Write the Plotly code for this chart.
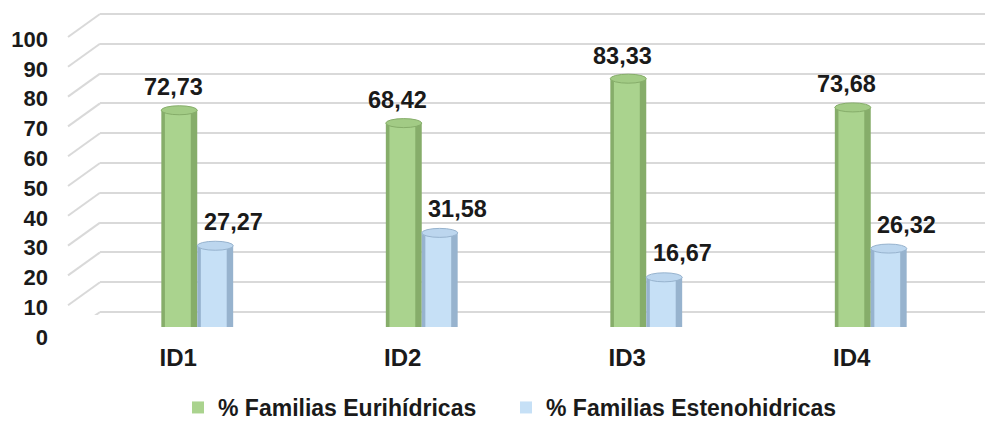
import plotly.graph_objects as go

categories = ["ID1", "ID2", "ID3", "ID4"]
euri = [72.73, 68.42, 83.33, 73.68]
esteno = [27.27, 31.58, 16.67, 26.32]
series_names = ["% Familias Eurihídricas", "% Familias Estenohidricas"]
y_ticks = [0, 10, 20, 30, 40, 50, 60, 70, 80, 90, 100]

W, H = 985, 429
FONT = "Liberation Sans, Arial, sans-serif"
TXT = "#1a1a1a"

def fmt(v):
    return f"{v:.2f}".replace(".", ",")

green_light, green_dark, green_top = "#AAD38E", "#86AD6A", "#A2CB85"
blue_light, blue_dark, blue_top = "#C6E0F6", "#97B3CE", "#BCD6EE"

fig = go.Figure()

# back-wall gridlines subplot (drawn first, underneath)
fig.add_trace(go.Scatter(x=[], y=[], xaxis="x", yaxis="y", showlegend=False, hoverinfo="skip"))

bw = 0.16
fig.add_trace(go.Bar(x=categories, y=euri, xaxis="x2", yaxis="y2", width=bw, offset=-bw,
                     marker=dict(color=green_dark, line=dict(width=0)), showlegend=False, hoverinfo="skip"))
fig.add_trace(go.Bar(x=categories, y=euri, xaxis="x2", yaxis="y2", width=bw * 0.72, offset=-bw + bw * 0.1,
                     name=series_names[0], legendwidth=283,
                     marker=dict(color=green_light, line=dict(width=0))))
fig.add_trace(go.Bar(x=categories, y=esteno, xaxis="x2", yaxis="y2", width=bw, offset=0.0,
                     marker=dict(color=blue_dark, line=dict(width=0)), showlegend=False, hoverinfo="skip"))
fig.add_trace(go.Bar(x=categories, y=esteno, xaxis="x2", yaxis="y2", width=bw * 0.72, offset=bw * 0.1,
                     name=series_names[1], legendwidth=310,
                     marker=dict(color=blue_light, line=dict(width=0))))

annotations = []
lab_font = dict(family=FONT, size=23.5, color=TXT, weight="bold")
for c, v in zip(categories, euri):
    annotations.append(dict(x=c, y=v, xref="x2", yref="y2", text=fmt(v), showarrow=False,
                            xshift=-24, yshift=23, yanchor="middle", font=lab_font))
for c, v in zip(categories, esteno):
    annotations.append(dict(x=c, y=v, xref="x2", yref="y2", text=fmt(v), showarrow=False,
                            xshift=36, yshift=24, yanchor="middle", font=lab_font))

shapes = []
for t in y_ticks:
    shapes.append(dict(type="line", xref="paper", yref="y", x0=68 / W, x1=100 / W,
                       ysizemode="pixel", yanchor=t, y0=-23, y1=0,
                       line=dict(color="#D9D9D9", width=2), layer="below"))

# cylinder tops
BWPX = 36
for i, v in enumerate(euri):
    shapes.append(dict(type="circle", xref="x2", yref="y2", xsizemode="pixel", ysizemode="pixel",
                       xanchor=i, yanchor=v, x0=-BWPX, x1=0, y0=-4.5, y1=4.5,
                       fillcolor=green_top, line=dict(color=green_dark, width=1), layer="above"))
for i, v in enumerate(esteno):
    shapes.append(dict(type="circle", xref="x2", yref="y2", xsizemode="pixel", ysizemode="pixel",
                       xanchor=i, yanchor=v, x0=0, x1=BWPX, y0=-4.5, y1=4.5,
                       fillcolor=blue_top, line=dict(color=blue_dark, width=1), layer="above"))

# back wall geometry: value 0 at 312px, 100 at 14px from top
k = (312 - 14) / 100
fig.update_layout(
    width=W, height=H,
    margin=dict(l=0, r=0, t=0, b=0, autoexpand=False),
    paper_bgcolor="white", plot_bgcolor="rgba(0,0,0,0)",
    barmode="overlay",
    showlegend=True,
    legend=dict(orientation="h", x=178 / W, xanchor="left", y=0.0, yanchor="bottom",
                font=dict(family=FONT, size=23, color=TXT, weight="bold"),
                traceorder="normal", itemwidth=30, bgcolor="rgba(0,0,0,0)"),
    xaxis=dict(domain=[100 / W, 1], showticklabels=False, showgrid=False, zeroline=False,
               showline=False, range=[0, 1]),
    yaxis=dict(domain=[(H - (312 + k)) / H, (H - (14 - k)) / H], range=[-1, 101], tickvals=y_ticks,
               showticklabels=False, showgrid=True, gridcolor="#D9D9D9", gridwidth=2,
               zeroline=False, showline=False, anchor="x"),
    xaxis2=dict(domain=[85 / W, 983 / W], anchor="y2", showgrid=False, zeroline=False, showline=False,
                categoryorder="array", categoryarray=categories, range=[-0.5, 3.5],
                tickfont=dict(family=FONT, size=24, color=TXT, weight="bold"),
                ticklabelshift=-19, ticklabelstandoff=14, ticks=""),
    yaxis2=dict(domain=[(H - 327) / H, (H - 29) / H], anchor="x2", range=[0, 100], tickvals=y_ticks,
                showgrid=False, zeroline=False, showline=False, ticks="",
                tickfont=dict(family=FONT, size=22, color=TXT, weight="bold"),
                ticklabelshift=10, ticklabelstandoff=36),
    annotations=annotations,
    shapes=shapes,
)

fig.write_html("out.html", config={"displayModeBar": False},
               post_script="document.body.style.margin='0';")
